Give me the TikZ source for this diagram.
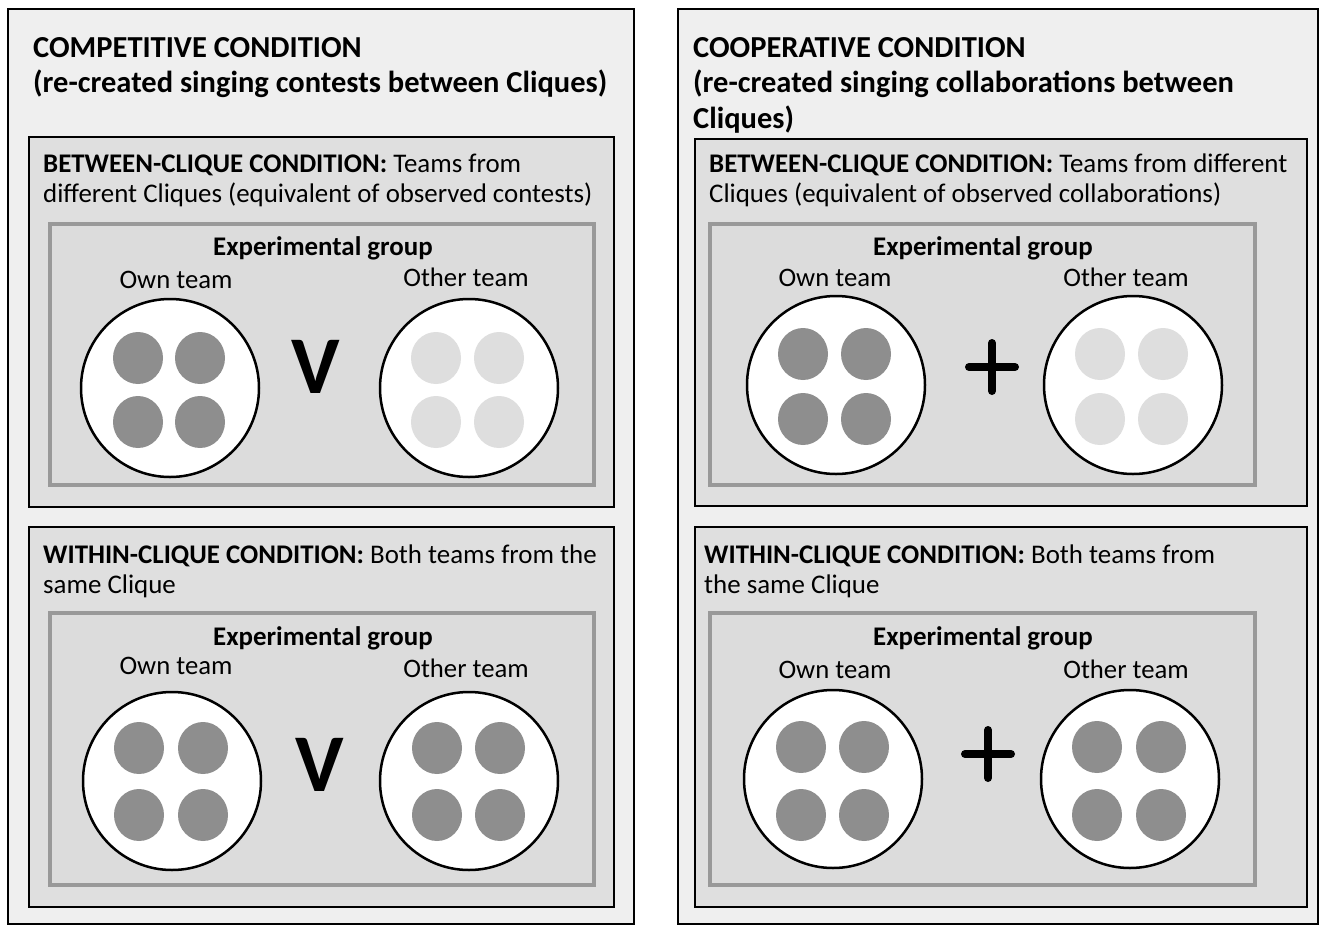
\documentclass[tikz,border=0pt]{standalone}
\usepackage{fontspec}
\setmainfont{Carlito}
\usetikzlibrary{shadows,shapes.geometric}
\definecolor{outerfill}{HTML}{EFEFEF}
\definecolor{midfill}{HTML}{DFDFDF}
\definecolor{expfill}{HTML}{DCDCDC}
\definecolor{expborder}{HTML}{999999}
\definecolor{darkdot}{HTML}{8E8E8E}
\definecolor{lightdot}{HTML}{DEDEDE}
\tikzset{
  outerbox/.style={draw=black, line width=2.5pt, fill=outerfill},
  midbox/.style={draw=black, line width=2.5pt, fill=midfill},
  expbox/.style={draw=expborder, line width=4pt, fill=expfill,
     drop shadow={shadow xshift=1pt, shadow yshift=-2pt, opacity=0.25}},
  titletext/.style={anchor=base west, inner sep=0pt, font=\fontsize{30.5}{37}\selectfont\bfseries},
  bodytext/.style={anchor=base west, inner sep=0pt, font=\fontsize{26.9}{30}\selectfont},
  exptext/.style={anchor=base, inner sep=0pt, font=\fontsize{26.9}{30}\selectfont\bfseries},
  teamtext/.style={anchor=base, inner sep=0pt, font=\fontsize{26.7}{30}\selectfont},
  team/.style={circle, draw=black, line width=2.5pt, fill=white, minimum size=178pt, inner sep=0pt},
  dark/.style={ellipse, fill=darkdot, minimum width=50pt, minimum height=52pt, inner sep=0pt},
  light/.style={ellipse, fill=lightdot, minimum width=50pt, minimum height=52pt, inner sep=0pt},
  vsign/.style={inner sep=0pt, font=\fontsize{82}{82}\selectfont\bfseries},
  plusbar/.style={line width=8pt, line cap=round}
}
\begin{document}
\begin{tikzpicture}[x=1pt,y=-1pt]
\useasboundingbox (0,0) rectangle (1326,927);
\fill[white] (0,0) rectangle (1326,927);
% outer boxes
\draw[outerbox] (8,9) rectangle (634,924);
\draw[outerbox] (678,9) rectangle (1318,924);
% titles
\node[titletext] (lt1) at (33,57) {COMPETITIVE CONDITION};
\node[titletext] (lt2) at (33,92) {(re-created singing contests between Cliques)};
\node[titletext] (rt1) at (693,57) {COOPERATIVE CONDITION};
\node[titletext] (rt2) at (693,92) {(re-created singing collaborations between};
\node[titletext] (rt3) at (693,128) {Cliques)};
% middle boxes
\draw[midbox] (29,137) rectangle (614,507);
\draw[midbox] (29,527) rectangle (614,907);
\draw[midbox] (695,139) rectangle (1307,506);
\draw[midbox] (695,527) rectangle (1307,907);
% middle texts
\node[bodytext] (lb1) at (43,172) {\textbf{BETWEEN-CLIQUE CONDITION:} Teams from};
\node[bodytext] (lb2) at (43,202) {different Cliques (equivalent of observed contests)};
\node[bodytext] (lw1) at (43,563) {\textbf{WITHIN-CLIQUE CONDITION:} Both teams from the};
\node[bodytext] (lw2) at (43,593) {same Clique};
\node[bodytext] (rb1) at (709,172) {\textbf{BETWEEN-CLIQUE CONDITION:} Teams from different};
\node[bodytext] (rb2) at (709,202) {Cliques (equivalent of observed collaborations)};
\node[bodytext] (rw1) at (704,563) {\textbf{WITHIN-CLIQUE CONDITION:} Both teams from};
\node[bodytext] (rw2) at (704,593) {the same Clique};
% experimental group boxes
\draw[expbox] (50,224) rectangle (594,485);
\draw[expbox] (50,613) rectangle (594,885);
\draw[expbox] (710,224) rectangle (1255,485);
\draw[expbox] (710,613) rectangle (1255,885);
% ---- left between
\node[exptext] (lbe) at (323,255) {Experimental group};
\node[teamtext] (lbow) at (176,288) {Own team};
\node[teamtext] (lbot) at (466,286) {Other team};
\node[team] (lbc1) at (170,388) {};
\node[team] (lbc2) at (469,388) {};
\node[dark] (lbd1) at (138,358) {};
\node[dark] (lbd2) at (200,358) {};
\node[dark] (lbd3) at (138,422) {};
\node[dark] (lbd4) at (200,422) {};
\node[light] (lbl1) at (436,358) {};
\node[light] (lbl2) at (499,358) {};
\node[light] (lbl3) at (436,422) {};
\node[light] (lbl4) at (499,422) {};
\node[vsign] (lbv) at (316,367) {V};
% ---- left within
\node[exptext] (lwe) at (323,645) {Experimental group};
\node[teamtext] (lwow) at (176,674) {Own team};
\node[teamtext] (lwot) at (466,677) {Other team};
\node[team] (lwc1) at (172,781) {};
\node[team] (lwc2) at (469,781) {};
\node[dark] (lwd1) at (139,748) {};
\node[dark] (lwd2) at (203,748) {};
\node[dark] (lwd3) at (139,815) {};
\node[dark] (lwd4) at (203,815) {};
\node[dark] (lwe1) at (437,748) {};
\node[dark] (lwe2) at (500,748) {};
\node[dark] (lwe3) at (437,815) {};
\node[dark] (lwe4) at (500,815) {};
\node[vsign] (lwv) at (320,765) {V};
% ---- right between
\node[exptext] (rbe) at (983,255) {Experimental group};
\node[teamtext] (rbow) at (835,286) {Own team};
\node[teamtext] (rbot) at (1126,286) {Other team};
\node[team] (rbc1) at (836,385) {};
\node[team] (rbc2) at (1133,385) {};
\node[dark] (rbd1) at (803,354) {};
\node[dark] (rbd2) at (866,354) {};
\node[dark] (rbd3) at (803,419) {};
\node[dark] (rbd4) at (866,419) {};
\node[light] (rbl1) at (1100,354) {};
\node[light] (rbl2) at (1163,354) {};
\node[light] (rbl3) at (1100,419) {};
\node[light] (rbl4) at (1163,419) {};
\coordinate (rbp) at (992,367);
\draw[plusbar] ([xshift=-23pt]rbp) -- ([xshift=23pt]rbp);
\draw[plusbar] ([yshift=-24pt]rbp) -- ([yshift=24pt]rbp);
% ---- right within
\node[exptext] (rwe) at (983,645) {Experimental group};
\node[teamtext] (rwow) at (835,678) {Own team};
\node[teamtext] (rwot) at (1126,678) {Other team};
\node[team] (rwc1) at (833,779) {};
\node[team] (rwc2) at (1130,779) {};
\node[dark] (rwd1) at (801,747) {};
\node[dark] (rwd2) at (864,747) {};
\node[dark] (rwd3) at (801,815) {};
\node[dark] (rwd4) at (864,815) {};
\node[dark] (rwe1) at (1097,747) {};
\node[dark] (rwe2) at (1161,747) {};
\node[dark] (rwe3) at (1097,815) {};
\node[dark] (rwe4) at (1161,815) {};
\coordinate (rwp) at (988,754);
\draw[plusbar] ([xshift=-23pt]rwp) -- ([xshift=23pt]rwp);
\draw[plusbar] ([yshift=-24pt]rwp) -- ([yshift=24pt]rwp);
\end{tikzpicture}
\end{document}
